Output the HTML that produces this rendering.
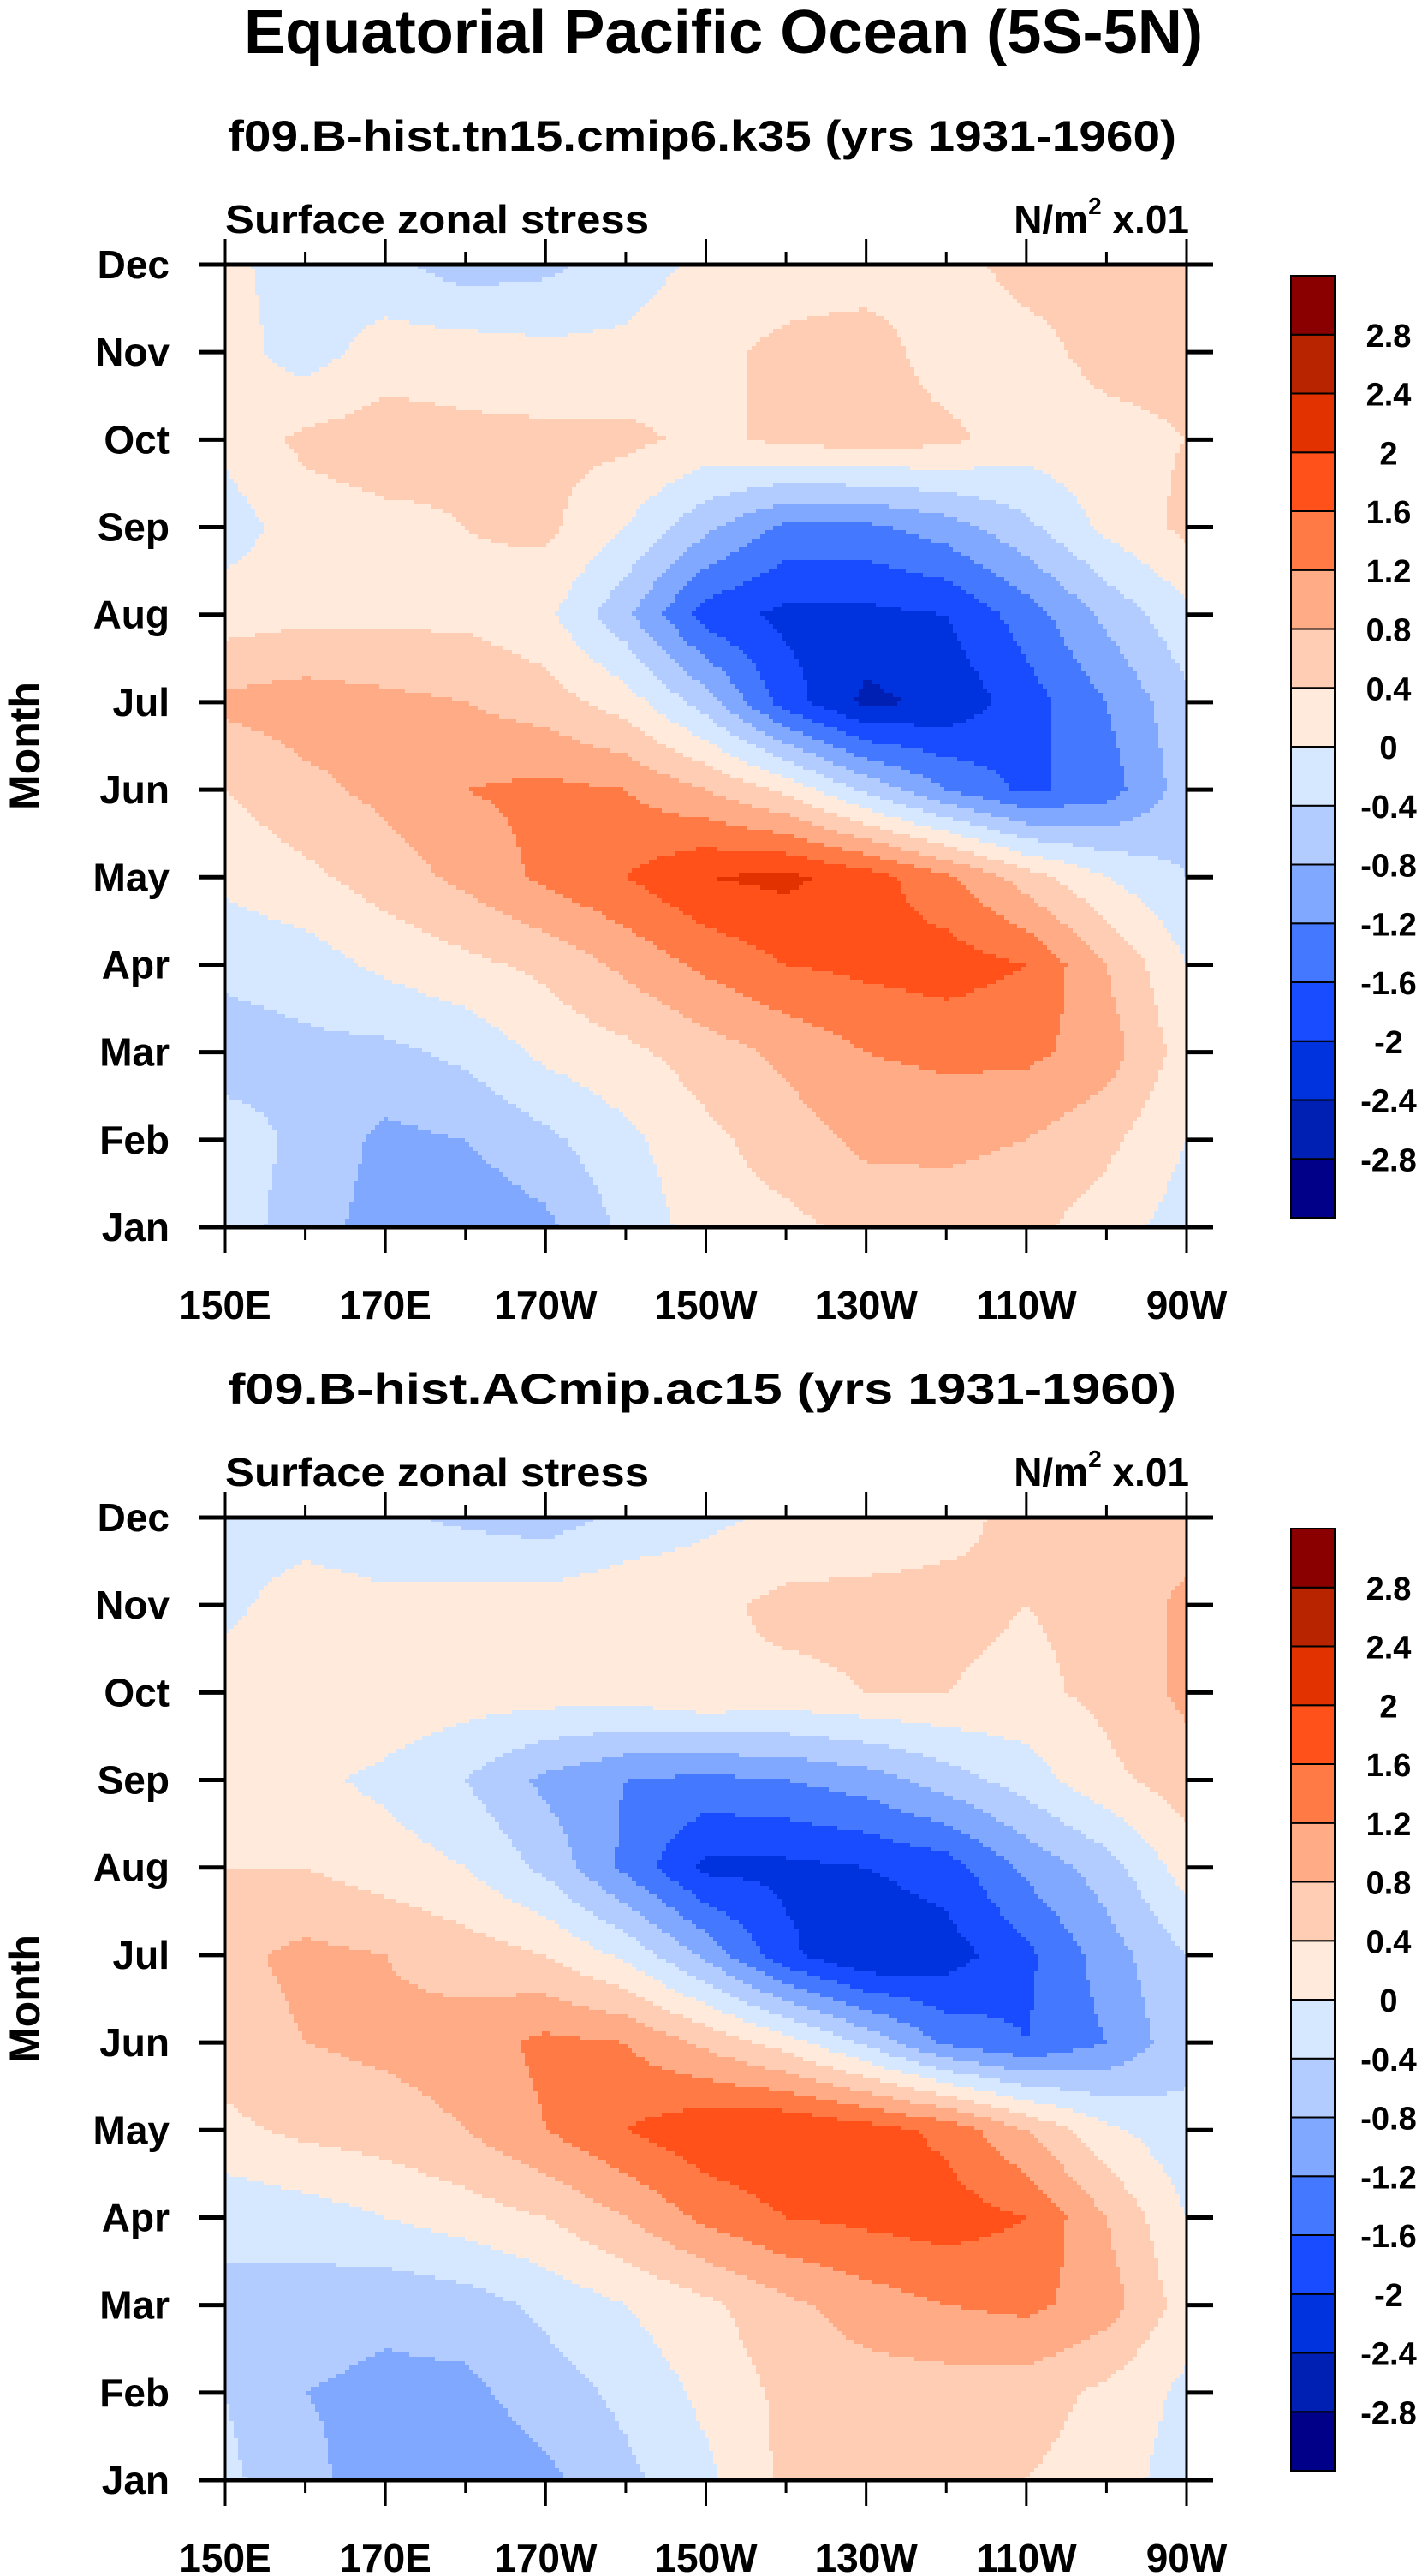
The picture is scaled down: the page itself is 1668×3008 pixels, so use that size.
<!DOCTYPE html>
<html><head><meta charset="utf-8"><style>
html,body{margin:0;padding:0;background:#fff}
svg{display:block}
text{font-family:"Liberation Sans",Arial,sans-serif;font-weight:bold;fill:#000}
</style></head><body>
<svg id="fig" width="1668" height="3008" viewBox="0 0 1668 3008" xmlns="http://www.w3.org/2000/svg">
<text x="845" y="62" font-size="72" text-anchor="middle" textLength="1120" lengthAdjust="spacingAndGlyphs">Equatorial Pacific Ocean (5S-5N)</text>
</svg>
<script>
const months=["Jan","Feb","Mar","Apr","May","Jun","Jul","Aug","Sep","Oct","Nov","Dec"];
const lonLabels=["150E","170E","170W","150W","130W","110W","90W"];
const levels=[-2.8,-2.4,-2,-1.6,-1.2,-0.8,-0.4,0,0.4,0.8,1.2,1.6,2,2.4,2.8];
const levelLabels=["-2.8","-2.4","-2","-1.6","-1.2","-0.8","-0.4","0","0.4","0.8","1.2","1.6","2","2.4","2.8"];
const colors=["#000088","#001fb3","#0033dd","#1a4cff","#4478ff","#80a8ff","#b3ccff","#d6e8ff","#ffeadb","#ffcdb4","#ffab85","#ff7a45","#ff5119","#e23200","#b82400","#8a0000"];
const lons=[150,160,170,180,190,200,210,220,230,240,250,260,270];
const titles=["f09.B-hist.tn15.cmip6.k35 (yrs 1931-1960)","f09.B-hist.ACmip.ac15 (yrs 1931-1960)"];
// rows: Jan..Dec, cols: lons
const stress1=[
[-0.2,-0.6,-1.0,-1.1,-0.9,-0.3,0.2,0.3,0.5,0.6,0.5,0.2,-0.2],
[-0.2,-0.5,-0.9,-0.8,-0.5,-0.1,0.3,0.6,0.9,0.9,0.8,0.5,0.0],
[-0.6,-0.5,-0.5,-0.3,0.1,0.3,0.6,0.9,1.2,1.3,1.3,1.0,0.2],
[-0.3,-0.2,0.1,0.3,0.5,0.9,1.3,1.6,1.7,1.8,1.6,0.8,0.0],
[0.1,0.3,0.6,0.9,1.3,1.6,2.0,2.1,1.8,1.3,0.6,0.0,-0.4],
[0.4,0.7,0.9,1.2,1.3,1.2,0.8,0.3,-0.5,-1.2,-1.7,-1.4,-0.6],
[0.9,1.0,0.9,0.8,0.6,0.2,-0.6,-1.8,-2.5,-2.3,-1.8,-1.2,-0.5],
[0.2,0.3,0.3,0.3,0.1,-0.7,-1.8,-2.1,-2.1,-2.0,-1.4,-0.7,-0.1],
[-0.2,0.2,0.3,0.4,0.5,0.0,-0.7,-1.3,-1.3,-1.0,-0.5,0.1,0.5],
[0.1,0.5,0.6,0.5,0.5,0.5,0.3,0.5,0.6,0.5,0.2,0.3,0.4],
[0.2,-0.2,0.2,0.2,0.1,0.1,0.3,0.5,0.6,0.2,0.3,0.5,0.5],
[0.1,-0.2,-0.3,-0.6,-0.5,-0.2,0.1,0.2,0.2,0.3,0.5,0.5,0.5]];
const stress2=[
[-0.3,-0.7,-1.0,-1.1,-0.9,-0.5,-0.1,0.5,0.6,0.6,0.4,0.2,-0.2],
[-0.4,-0.8,-0.9,-0.9,-0.6,-0.3,0.1,0.5,0.6,0.6,0.6,0.3,-0.1],
[-0.5,-0.6,-0.7,-0.6,-0.3,0.0,0.3,0.7,1.0,1.2,1.3,1.0,0.2],
[-0.3,-0.2,0.0,0.2,0.4,0.8,1.3,1.6,1.7,1.8,1.6,0.8,0.0],
[0.3,0.5,0.6,0.8,1.2,1.6,1.9,2.0,1.8,1.5,0.8,0.1,-0.3],
[0.6,0.8,0.9,1.0,1.3,1.2,0.7,0.2,-0.5,-1.3,-1.6,-1.2,-0.5],
[0.7,0.9,0.8,0.6,0.4,-0.1,-0.9,-1.9,-2.4,-2.2,-1.7,-1.0,-0.4],
[0.4,0.4,0.2,0.0,-0.5,-1.3,-2.1,-2.1,-2.0,-1.8,-1.1,-0.6,0.2],
[0.2,0.1,-0.1,-0.4,-0.9,-1.2,-1.3,-1.2,-1.0,-0.6,-0.2,0.3,0.6],
[0.2,0.3,0.3,0.2,0.2,0.2,0.4,0.3,0.4,0.4,0.3,0.5,0.9],
[-0.1,0.2,0.1,0.2,0.2,0.3,0.3,0.5,0.5,0.5,0.4,0.5,0.9],
[-0.2,-0.2,-0.3,-0.5,-0.6,-0.3,-0.1,0.1,0.2,0.3,0.5,0.6,0.6]];

const NS="http://www.w3.org/2000/svg";
const fig=document.getElementById('fig');
function mk(tag,attrs,parent){const e=document.createElementNS(NS,tag);for(const k in attrs)e.setAttribute(k,attrs[k]);(parent||fig).appendChild(e);return e;}
const PL=263,PR=1386,PW=PR-PL,PH=1124;
function colorIdx(v){let i=0;while(i<levels.length&&v>=levels[i])i++;return i;}
function drawPanel(data,top,title,pi){
  const g=mk('g',{});
  
  
  const lonMin=lons[0],lonMax=lons[lons.length-1];
  const yOf=m=>top+PH-(m/(months.length-1))*PH;
  const t=mk('text',{x:820,y:top-133,'font-size':50,'text-anchor':'middle',textLength:1108,lengthAdjust:'spacingAndGlyphs'},g);
  t.textContent=title;
  const l=mk('text',{x:263,y:top-37,'font-size':46,textLength:495,lengthAdjust:'spacingAndGlyphs'},g);
  l.textContent='Surface zonal stress';
  const u=mk('text',{x:1389,y:top-37,'font-size':46,'text-anchor':'end'},g);
  u.innerHTML='N/m<tspan font-size="28" dy="-22">2</tspan><tspan dy="22"> x.01</tspan>';
  
  const field=mk('g',{'shape-rendering':'crispEdges'},g);
  
  const cs=5,nc=Math.ceil(PW/cs),nr=Math.ceil(PH/cs);
  const nL=lons.length-1,nM=months.length-1;
  for(let r=0;r<nr;r++){
    const py=top+r*cs+cs/2;
    let mv=(top+PH-py)/PH*nM; mv=Math.max(0,Math.min(nM,mv));
    const m0=Math.min(nM-1,Math.floor(mv)),fm=mv-m0;
    let runStart=0,runC=-1;
    for(let c=0;c<=nc;c++){
      let ci=-1;
      if(c<nc){
        const px=PL+c*cs+cs/2;
        let lv=(px-PL)/PW*nL; lv=Math.max(0,Math.min(nL,lv));
        const l0=Math.min(nL-1,Math.floor(lv)),fl=lv-l0;
        const v=(1-fm)*((1-fl)*data[m0][l0]+fl*data[m0][l0+1])+fm*((1-fl)*data[m0+1][l0]+fl*data[m0+1][l0+1]);
        ci=colorIdx(v);
      }
      if(ci!==runC){
        if(runC>=0){
          const x0=PL+runStart*cs,x1=Math.min(PR,PL+c*cs),y0=top+r*cs,y1=Math.min(top+PH,y0+cs);
          const rc=mk('rect',{x:x0,y:y0,width:x1-x0,height:y1-y0,fill:colors[runC]},field);
          
          
        }
        runC=ci;runStart=c;
      }
    }
  }
  const fr=mk('rect',{x:PL,y:top,width:PW,height:PH,fill:'none',stroke:'#000','stroke-width':3},g);
  
  mk('line',{x1:PL-30,x2:PR+30,y1:top,y2:top,stroke:'#000','stroke-width':5},g);
  mk('line',{x1:PL-30,x2:PR+30,y1:top+PH,y2:top+PH,stroke:'#000','stroke-width':5},g);
  months.forEach((mn,i)=>{
    const y=yOf(i);
    mk('line',{x1:PL-31,x2:PL,y1:y,y2:y,stroke:'#000','stroke-width':5},g);
    mk('line',{x1:PR,x2:PR+31,y1:y,y2:y,stroke:'#000','stroke-width':5},g);
    const tx=mk('text',{x:198,y:y+16,'font-size':46,'text-anchor':'end'},g);
    tx.textContent=mn;
  });
  for(let k=0;k<=12;k++){
    const x=PL+k/12*PW,len=k%2===0?30:15;
    mk('line',{x1:x,x2:x,y1:top-len,y2:top,stroke:'#000','stroke-width':3},g);
    mk('line',{x1:x,x2:x,y1:top+PH,y2:top+PH+len,stroke:'#000','stroke-width':3},g);
  }
  lonLabels.forEach((lb,i)=>{
    const tx=mk('text',{x:PL+i/6*PW,y:top+PH+107,'font-size':46,'text-anchor':'middle'},g);
    tx.textContent=lb;
  });
  const yt=mk('text',{x:0,y:0,'font-size':50,'text-anchor':'middle',transform:`translate(46,${top+PH/2}) rotate(-90)`},g);
  yt.textContent='Month';
  const cb=mk('g',{},g);
  
  const cbTop=top+13,cbH=1100,bh=cbH/colors.length;
  colors.forEach((c,i)=>{
    const y=cbTop+cbH-(i+1)*bh;
    const b=mk('rect',{x:1508,y:y,width:51,height:bh,fill:c,stroke:'#000','stroke-width':2},cb);
    
  });
  levelLabels.forEach((lb,i)=>{
    const y=cbTop+cbH-(i+1)*bh;
    const tx=mk('text',{x:1622,y:y+14,'font-size':38,'text-anchor':'middle'},cb);
    tx.textContent=lb;
  });
}
drawPanel(stress1,309,titles[0],0);
drawPanel(stress2,1772,titles[1],1);
</script>
</body></html>
